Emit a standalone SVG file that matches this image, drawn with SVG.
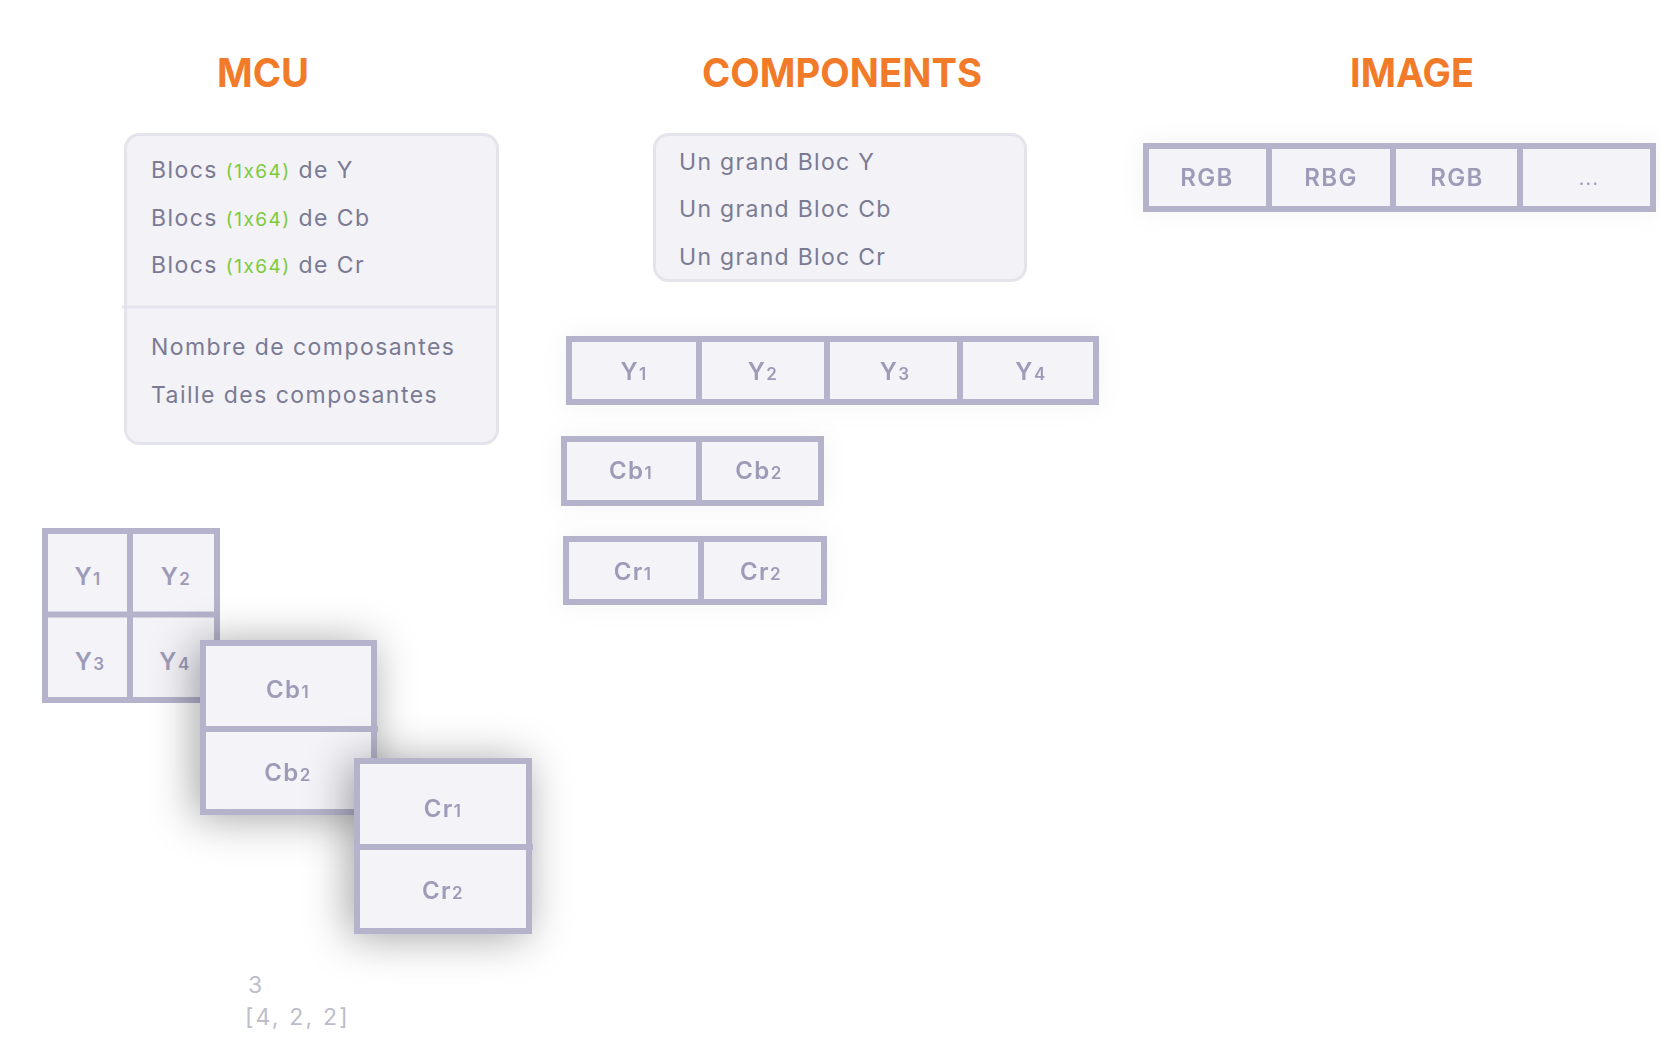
<svg xmlns="http://www.w3.org/2000/svg" width="1660" height="1056" viewBox="0 0 1660 1056">
<style>
.title{font-family:Inter,"Liberation Sans",sans-serif;font-weight:700;font-size:40px;fill:#F27B2A;text-anchor:middle}
.panel{fill:#F2F2F7;stroke:#E4E4EC;stroke-width:3}
.sep{stroke:#E4E4EC;stroke-width:3}
.ptxt{font-family:Inter,"Liberation Sans",sans-serif;font-size:23px;fill:#7A7A93;letter-spacing:1.45px}
.green{fill:#7DCB3B;font-size:19px}
.cell{fill:#F3F3F8;stroke:#B5B3CB;stroke-width:6}
.div{stroke:#B5B3CB;stroke-width:6}
.ctxt{font-family:Inter,"Liberation Sans",sans-serif;font-weight:600;font-size:24px;fill:#9D9BB7;text-anchor:middle;letter-spacing:1.4px}
.sub{font-size:17px}
.note{font-family:Inter,"Liberation Sans",sans-serif;font-size:23px;fill:#BDBDCB;letter-spacing:2.2px}
</style>
<defs>
<filter id="big" x="-70%" y="-70%" width="240%" height="240%">
<feDropShadow dx="-5" dy="3" stdDeviation="22" flood-color="#000" flood-opacity="0.36"/>
</filter>
<filter id="soft" x="-20%" y="-80%" width="140%" height="260%">
<feDropShadow dx="0" dy="0" stdDeviation="12" flood-color="#000" flood-opacity="0.05"/>
</filter>
</defs>
<rect width="1660" height="1056" fill="#FFFFFF"/>

<g id="titles">
<text class="title" x="263" y="87" textLength="92" lengthAdjust="spacingAndGlyphs">MCU</text>
<text class="title" x="842" y="87" textLength="280" lengthAdjust="spacingAndGlyphs">COMPONENTS</text>
<text class="title" x="1412" y="87" textLength="124" lengthAdjust="spacingAndGlyphs">IMAGE</text>
</g>

<g id="mcu-panel">
<rect class="panel" x="125.5" y="134.5" width="372" height="309" rx="14"/>
<line class="sep" x1="122" y1="307" x2="497" y2="307"/>
<text class="ptxt" x="151" y="178">Blocs <tspan class="green">(1x64)</tspan> de Y</text>
<text class="ptxt" x="151" y="226">Blocs <tspan class="green">(1x64)</tspan> de Cb</text>
<text class="ptxt" x="151" y="273">Blocs <tspan class="green">(1x64)</tspan> de Cr</text>
<text class="ptxt" x="151" y="355">Nombre de composantes</text>
<text class="ptxt" x="151" y="403">Taille des composantes</text>
</g>

<g id="components-panel">
<rect class="panel" x="654.5" y="134.5" width="371" height="146" rx="14"/>
<text class="ptxt" x="679" y="170" style="letter-spacing:1.3px">Un grand Bloc Y</text>
<text class="ptxt" x="679" y="217" style="letter-spacing:1.3px">Un grand Bloc Cb</text>
<text class="ptxt" x="679" y="265" style="letter-spacing:1.3px">Un grand Bloc Cr</text>
</g>

<g id="image-row" filter="url(#soft)">
<rect class="cell" x="1146" y="146" width="507" height="63"/>
<line class="div" x1="1269" y1="143" x2="1269" y2="212"/>
<line class="div" x1="1393" y1="143" x2="1393" y2="212"/>
<line class="div" x1="1520" y1="143" x2="1520" y2="212"/>
<text class="ctxt" x="1207" y="186">RGB</text>
<text class="ctxt" x="1331" y="186">RBG</text>
<text class="ctxt" x="1457" y="186">RGB</text>
<text class="ctxt" x="1589" y="185" style="font-size:19px;font-weight:400">...</text>
</g>

<g id="comp-y-row" filter="url(#soft)">
<rect class="cell" x="569" y="339" width="527" height="63"/>
<line class="div" x1="699" y1="336" x2="699" y2="405"/>
<line class="div" x1="827" y1="336" x2="827" y2="405"/>
<line class="div" x1="960" y1="336" x2="960" y2="405"/>
<text class="ctxt" x="634" y="380">Y<tspan class="sub">1</tspan></text>
<text class="ctxt" x="763" y="380">Y<tspan class="sub">2</tspan></text>
<text class="ctxt" x="895" y="380">Y<tspan class="sub">3</tspan></text>
<text class="ctxt" x="1031" y="380">Y<tspan class="sub">4</tspan></text>
</g>

<g id="comp-cb-row" filter="url(#soft)">
<rect class="cell" x="564" y="439" width="257" height="64"/>
<line class="div" x1="699" y1="436" x2="699" y2="506"/>
<text class="ctxt" x="631" y="479">Cb<tspan class="sub">1</tspan></text>
<text class="ctxt" x="759" y="479">Cb<tspan class="sub">2</tspan></text>
</g>

<g id="comp-cr-row" filter="url(#soft)">
<rect class="cell" x="566" y="539" width="258" height="63"/>
<line class="div" x1="701" y1="536" x2="701" y2="605"/>
<text class="ctxt" x="633" y="580">Cr<tspan class="sub">1</tspan></text>
<text class="ctxt" x="761" y="580">Cr<tspan class="sub">2</tspan></text>
</g>

<g id="mcu-y-grid">
<rect class="cell" x="45" y="531" width="172" height="169"/>
<line class="div" x1="130" y1="528" x2="130" y2="703"/>
<line class="div" x1="42" y1="614.5" x2="220" y2="614.5"/>
<text class="ctxt" x="88" y="585">Y<tspan class="sub">1</tspan></text>
<text class="ctxt" x="176" y="585">Y<tspan class="sub">2</tspan></text>
<text class="ctxt" x="90" y="670">Y<tspan class="sub">3</tspan></text>
<text class="ctxt" x="175" y="670">Y<tspan class="sub">4</tspan></text>
</g>

<g id="mcu-cb-stack" filter="url(#big)">
<rect class="cell" x="203" y="643" width="171" height="169"/>
<line class="div" x1="200" y1="729" x2="378" y2="729"/>
<text class="ctxt" x="288" y="698">Cb<tspan class="sub">1</tspan></text>
<text class="ctxt" x="288" y="781">Cb<tspan class="sub">2</tspan></text>
</g>

<g id="mcu-cr-stack" filter="url(#big)">
<rect class="cell" x="357" y="761" width="172" height="170"/>
<line class="div" x1="354" y1="847" x2="533" y2="847"/>
<text class="ctxt" x="443" y="817">Cr<tspan class="sub">1</tspan></text>
<text class="ctxt" x="443" y="899">Cr<tspan class="sub">2</tspan></text>
</g>

<g id="mcu-values">
<text class="note" x="248" y="993">3</text>
<text class="note" x="245" y="1025">[4, 2, 2]</text>
</g>

<g id="connectors"/>
</svg>
